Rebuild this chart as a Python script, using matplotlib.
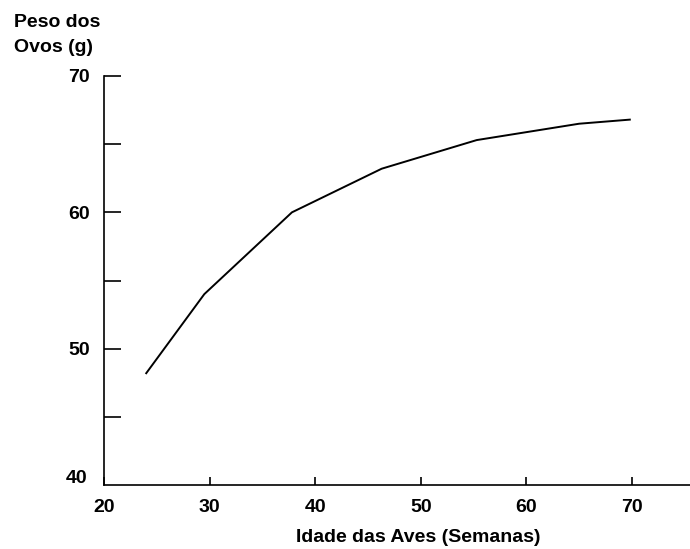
import matplotlib
matplotlib.use("Agg")
import matplotlib.pyplot as plt

# idade das aves (semanas) e peso dos ovos (g)
idade = [24, 29.5, 37.8, 46.3, 55.3, 65, 69.8]
peso = [48.2, 54.0, 60.0, 63.2, 65.3, 66.5, 66.8]

x_ticks = [20, 30, 40, 50, 60, 70]
y_ticks = [45, 50, 55, 60, 65, 70]
y_labels = ["", "50", "", "60", "", "70"]

plt.rcParams['font.family'] = ['Liberation Sans', 'DejaVu Sans']
plt.rcParams['font.weight'] = 'bold'
fs = 14

fig = plt.figure(figsize=(6.9, 5.49), dpi=100)
ax = fig.add_axes([104 / 690, 1 - 485 / 549, 1 - 104 / 690, (485 - 76) / 549])

ax.plot(idade, peso, color="black", lw=1.4)

ax.set_xlim(20, 75.5)
ax.set_ylim(40, 70)

ax.spines['top'].set_visible(False)
ax.spines['right'].set_visible(False)
ax.spines['left'].set_linewidth(1.2)
ax.spines['bottom'].set_linewidth(1.2)

ax.set_xticks(x_ticks)
ax.set_xticklabels([str(v) for v in x_ticks])
ax.set_yticks(y_ticks)
ax.set_yticklabels(y_labels)
ax.tick_params(axis='x', direction='in', length=6, width=1.2, pad=10, labelsize=fs)
ax.tick_params(axis='y', direction='in', length=12, width=1.2, pad=10, labelsize=fs)

# rotulo 40 no canto (sem marca)
ax.text(-0.028, 0.015, "40", transform=ax.transAxes, ha='right', va='center',
        fontsize=fs, fontweight='bold')

fig.text(14 / 690, 1 - 14 / 549, "Peso dos\nOvos (g)", ha='left', va='top',
         fontsize=fs, fontweight='bold', linespacing=1.6)
fig.text(418 / 690, 1 - 537 / 549, "Idade das Aves (Semanas)", ha='center', va='center',
         fontsize=fs, fontweight='bold')

fig.savefig("out.png", dpi=100)
